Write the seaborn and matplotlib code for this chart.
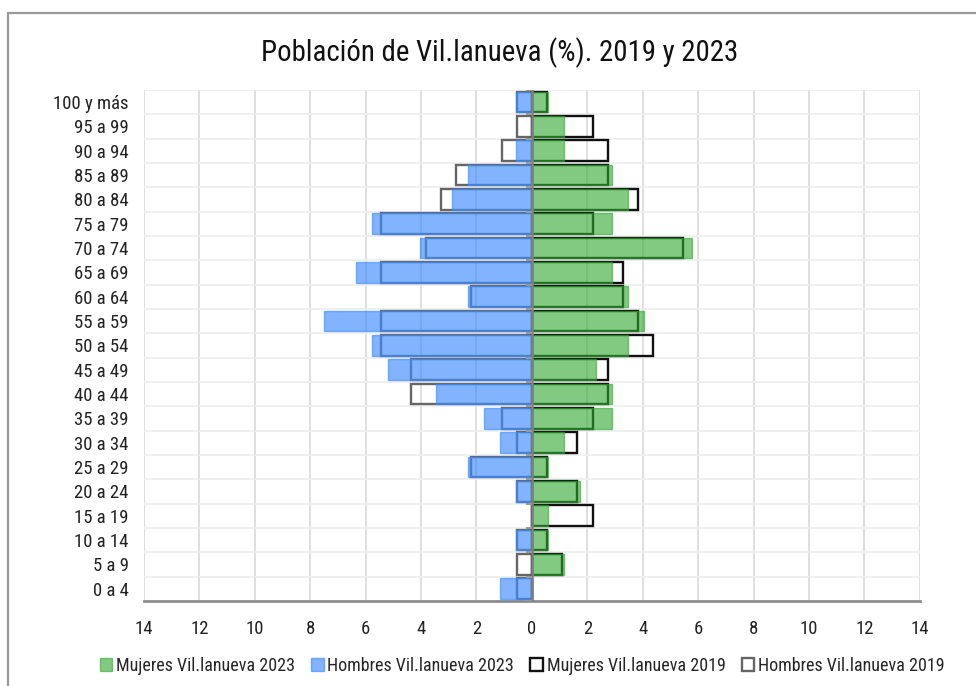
import pandas as pd
import seaborn as sns
import matplotlib.pyplot as plt
from matplotlib.patches import Patch

grupos = ["100 y más", "95 a 99", "90 a 94", "85 a 89", "80 a 84", "75 a 79", "70 a 74",
          "65 a 69", "60 a 64", "55 a 59", "50 a 54", "45 a 49", "40 a 44", "35 a 39",
          "30 a 34", "25 a 29", "20 a 24", "15 a 19", "10 a 14", "5 a 9", "0 a 4"]

mujeres_2023 = [0.58, 1.16, 1.16, 2.89, 3.47, 2.89, 5.78, 2.89, 3.47, 4.05, 3.47,
                2.31, 2.89, 2.89, 1.16, 0.58, 1.73, 0.58, 0.58, 1.16, 0.0]
hombres_2023 = [0.58, 0.0, 0.58, 2.31, 2.89, 5.78, 4.05, 6.36, 2.31, 7.51, 5.78,
                5.20, 3.47, 1.73, 1.16, 2.31, 0.58, 0.0, 0.58, 0.0, 1.16]
mujeres_2019 = [0.55, 2.19, 2.73, 2.73, 3.83, 2.19, 5.46, 3.28, 3.28, 3.83, 4.37,
                2.73, 2.73, 2.19, 1.64, 0.55, 1.64, 2.19, 0.55, 1.09, 0.0]
hombres_2019 = [0.55, 0.55, 1.09, 2.73, 3.28, 5.46, 3.83, 5.46, 2.19, 5.46, 5.46,
                4.37, 4.37, 1.09, 0.55, 2.19, 0.55, 0.0, 0.55, 0.55, 0.55]

df = pd.DataFrame({
    "grupo": grupos,
    "m2023": mujeres_2023,
    "h2023": [-v for v in hombres_2023],
    "m2019": mujeres_2019,
    "h2019": [-v for v in hombres_2019],
})

sns.set_style("white")
plt.rcParams["font.family"] = ["Roboto Condensed", "DejaVu Sans Condensed", "Roboto", "DejaVu Sans"]

fig = plt.figure(figsize=(9.76, 6.86), dpi=100)
ax = fig.add_axes([0.1475, 0.124, 0.795, 0.745])

verde = "#2fa82f"
azul = "#3d8bff"

# 2019: solo contorno
sns.barplot(data=df, x="h2019", y="grupo", orient="h", order=grupos, width=0.85,
            fill=False, color="#666666", linewidth=1.7, errorbar=None, ax=ax, zorder=2)
sns.barplot(data=df, x="m2019", y="grupo", orient="h", order=grupos, width=0.85,
            fill=False, color="#111111", linewidth=1.7, errorbar=None, ax=ax, zorder=2)
# 2023: relleno translúcido
sns.barplot(data=df, x="h2023", y="grupo", orient="h", order=grupos, width=0.85,
            color=azul, edgecolor=azul, linewidth=1, alpha=0.65, errorbar=None,
            saturation=1, ax=ax, zorder=3)
sns.barplot(data=df, x="m2023", y="grupo", orient="h", order=grupos, width=0.85,
            color=verde, edgecolor=verde, linewidth=1, alpha=0.6, errorbar=None,
            saturation=1, ax=ax, zorder=3)

n = len(grupos)
ax.set_xlim(-14, 14)
ax.set_ylim(n - 0.5, -0.5)
ticks = list(range(-14, 15, 2))
ax.set_xticks(ticks)
ax.set_xticklabels([str(abs(t)) for t in ticks], fontsize=13.5, color="#222222")
ax.set_yticks(range(n))
ax.set_yticklabels(grupos, fontsize=13.5, color="#222222")
ax.set_yticks([i + 0.5 for i in range(-1, n)], minor=True)
ax.set_xlabel("")
ax.set_ylabel("")

ax.set_axisbelow(True)
ax.grid(axis="x", which="major", color="#d9d9d9", linewidth=1.2)
ax.grid(axis="y", which="minor", color="#eeeeee", linewidth=1.2)
ax.grid(axis="y", which="major", visible=False)

for s in ["top", "right", "left"]:
    ax.spines[s].set_visible(False)
ax.spines["bottom"].set_color("#8c8c8c")
ax.spines["bottom"].set_linewidth(2)
ax.tick_params(axis="x", direction="inout", length=7, width=1.5, color="#8c8c8c", pad=10)
ax.tick_params(axis="y", which="both", length=0, pad=11)

# eje central
ax.axvline(0, color="#808080", linewidth=1.8, zorder=4)
ax.hlines([i + 0.5 for i in range(-1, n)], -0.22, 0, color="#999999", linewidth=1.5, zorder=4)

fig.suptitle("Población de Vil.lanueva (%). 2019 y 2023", x=0.512, y=0.946,
             fontsize=20.8, color="#111111")

handles = [
    Patch(facecolor=verde, edgecolor=verde, alpha=0.6, label="Mujeres Vil.lanueva 2023"),
    Patch(facecolor=azul, edgecolor=azul, alpha=0.65, label="Hombres Vil.lanueva 2023"),
    Patch(facecolor="white", edgecolor="#111111", linewidth=1.7, label="Mujeres Vil.lanueva 2019"),
    Patch(facecolor="white", edgecolor="#666666", linewidth=1.7, label="Hombres Vil.lanueva 2019"),
]
fig.legend(handles=handles, loc="center", bbox_to_anchor=(0.535, 0.029), ncol=4,
           frameon=False, fontsize=13, handlelength=0.7, handleheight=0.7,
           handletextpad=0.2, columnspacing=0.9)

# marco del gráfico
fig.add_artist(plt.Line2D([0.0078, 0.0078], [0, 0.981], color="#999999", linewidth=1.6))
fig.add_artist(plt.Line2D([0.0078, 1.0], [0.981, 0.981], color="#999999", linewidth=1.6))

fig.savefig("out.png", dpi=100)
